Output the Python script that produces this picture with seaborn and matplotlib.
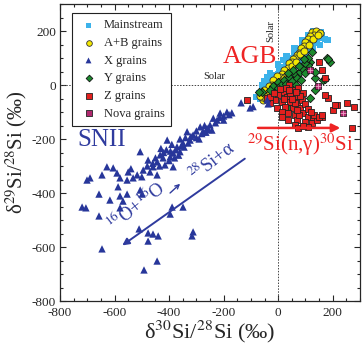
import matplotlib
matplotlib.use("Agg")
import matplotlib.pyplot as plt
import seaborn as sns
import pandas as pd
from matplotlib.ticker import MultipleLocator

# --- data: (d30Si, d29Si) per grain type, permil ---
mainstream_x = [-80, -70, -65, -60, -55, -50, -45, -40, -35, -30, -25, -20, -15, -10, -5, 0, 5, 10, 15, 20,
                25, 30, 35, 40, 45, 50, 55, 60, 65, 70, 75, 80, 85, 90, 95, 100, 105, 110, 115, 120,
                125, 130, 135, 140, 150, 155, 172, 180, 154, -18, 18, -40, 0, 30, 60, 90, 110, -60, -30, 120,
                95, 70, 45, 20, -5, -30, 140, 160, 130, -50, 5, 50, 75, 100, 125]
mainstream_y = [-45, -30, -50, -20, -35, -10, -40, 0, -20, 15, -5, 25, 5, 35, 15, 40, 20, 55, 35, 65,
                45, 80, 55, 90, 70, 100, 80, 110, 90, 120, 100, 130, 110, 140, 120, 150, 130, 160, 140, 170,
                150, 180, 160, 190, 175, 195, 170, 167, 148, 30, 93, 30, 75, 105, 135, 165, 185, 0, 45, 130,
                100, 70, 40, 10, -15, -40, 155, 185, 200, 15, 60, 60, 80, 115, 135]

ab_x = [125, 139, 154, 132, 118, 110, 106, 100, 95, 88, 82, 75, 70, 62, 55, 50, 44, 38, 35, 26,
        20, 15, 7, 0, -5, -11, -18, -22, -29, -35, -40, -48, -52, -55, -60, -65, -45, 10, 30, 50,
        65, 80, 95, 112, 128, 145, -10, -30, 5, 20]
ab_y = [196, 200, 193, 185, 180, 170, 156, 160, 145, 130, 138, 120, 110, 100, 95, 85, 74, 80, 62, 48,
        55, 40, 30, 22, 35, 11, 18, 0, -11, -5, -25, -37, -20, -55, -45, -40, -50, 15, 35, 70,
        85, 115, 125, 150, 170, 185, -10, -30, 5, 25]

x_x = [-37, -40, -92, -136, -103, -170, -188, -213, -200, -224, -238, -230, -250, -243, -261, -275, -286, -270, -300, -312,
       -334, -323, -340, -349, -360, -371, -360, -385, -375, -390, -407, -396, -410, -422, -433, -430, -444, -415, -385, -400,
       -459, -450, -470, -444, -495, -480, -506, -477, -517, -500, -532, -550, -554, -540, -580, -591, -605, -628, -646, -701,
       -690, -587, -506, -499, -617, -719, -705, -657, -657, -580, -569, -554, -580, -396, -389, -349, -510, -477, -459, -440,
       -477, -312, -316, -444, -492, -646, -320, -300, -280, -265, -255, -290, -330, -345, -355, -365, -380, -395, -420, -435,
       -460, -200, -215, -180]
x_y = [-70, -55, -80, -66, -85, -103, -100, -104, -115, -130, -123, -140, -148, -167, -160, -173, -155, -150, -170, -185,
       -173, -204, -195, -215, -200, -229, -247, -252, -240, -220, -204, -266, -240, -270, -259, -235, -285, -296, -303, -280,
       -303, -270, -322, -333, -315, -300, -247, -278, -333, -340, -344, -322, -352, -310, -344, -326, -307, -303, -333, -352,
       -344, -377, -389, -404, -426, -452, -455, -404, -485, -411, -430, -404, -455, -478, -452, -452, -533, -548, -552, -559,
       -578, -544, -559, -652, -685, -607, -190, -195, -180, -175, -165, -200, -215, -230, -225, -260, -270, -245, -250, -300,
       -290, -130, -120, -110]

y_x = [125, 180, 191, 117, 136, 165, 110, 136, -59, -70, 44, 117, 136, 172, 183, 0, 10, 20, 30, 40,
       50, 60, 70, 80, 90, 100, -10, 5, 25, 45, 65, 85, 100, 75, 55, 35, -20, -30, 0, 110, 95]
y_y = [122, 100, 85, 85, 26, 18, 74, 48, -26, -26, -85, -48, -18, 22, 96, 10, 0, 20, 5, 30,
       15, 40, 25, 50, 60, 45, -20, -30, -15, -5, 0, 20, 80, 70, 55, 45, -5, -20, -10, 100, 95]

z_x = [55, 73, 18, 33, 0, 44, 15, -11, 70, 88, 81, 55, 26, -4, -29, 37, 62, 92, 110, 70,
       99, 125, 62, 73, 110, 128, 143, 161, 183, 216, 253, 279, 271, 15, 15, -40, -29, 202, 161, 172,
       150, -114, 77, 132, 150, 161, 70, 62, 172, 209, 40, 30, 60, 90, 100, 50, 20, -15, 5, 45,
       80, 110, 35, 90, 120, 40, 65]
z_y = [-18, -11, -26, -44, -37, -63, -63, -55, -63, -55, -85, -85, -81, -85, -67, -104, -111, -104, -118, -130,
       -137, -141, -148, -159, -155, -118, -130, -118, -48, -74, -67, -81, -159, -100, -118, -48, -44, -93, 55, 26,
       85, -57, -111, -111, -118, -111, -93, -67, -37, -74, 0, -10, -40, -30, -70, -50, -50, -30, -15, -30,
       -40, -90, -130, -150, -100, -20, -25]

nova_x = [117, 147, 238]
nova_y = [55, -2, -104]

groups = {
    "Mainstream": (mainstream_x, mainstream_y),
    "A+B grains": (ab_x, ab_y),
    "X grains": (x_x, x_y),
    "Y grains": (y_x, y_y),
    "Z grains": (z_x, z_y),
    "Nova grains": (nova_x, nova_y),
}

frames = []
for name, (xs, ys) in groups.items():
    frames.append(pd.DataFrame({"d30": xs, "d29": ys, "type": name}))
df = pd.concat(frames, ignore_index=True)

# style per grain type
styles = {
    "Mainstream": dict(marker="s", color="#3cb2ea", edgecolor="none", s=22, lw=0),
    "A+B grains": dict(marker="o", color="#f4e800", edgecolor="#333333", s=26, lw=0.6),
    "X grains": dict(marker="^", color="#27369a", edgecolor="none", s=28, lw=0),
    "Y grains": dict(marker="D", color="#1c8a2e", edgecolor="#111111", s=18, lw=0.6),
    "Z grains": dict(marker="s", color="#e3201e", edgecolor="#222222", s=22, lw=0.6),
    "Nova grains": dict(marker="s", color="#b0286e", edgecolor="#222222", s=24, lw=0.6),
}
draw_order = ["Mainstream", "A+B grains", "Y grains", "Z grains", "Nova grains", "X grains"]

sns.set_style("ticks")
plt.rcParams["font.family"] = ["Liberation Serif", "DejaVu Serif"]
plt.rcParams["mathtext.fontset"] = "stix"
plt.rcParams["axes.unicode_minus"] = False

fig = plt.figure(figsize=(3.64, 3.52), dpi=100)
ax = fig.add_axes([60 / 364, 51 / 352, 300 / 364, 297 / 352])

for name in draw_order:
    st = styles[name]
    sns.scatterplot(data=df[df["type"] == name], x="d30", y="d29", ax=ax,
                    marker=st["marker"], color=st["color"], edgecolor=st["edgecolor"],
                    s=st["s"], linewidth=st["lw"], label=name, zorder=3)

# nova cross
nv = df[df["type"] == "Nova grains"]
ax.scatter(nv["d30"], nv["d29"], marker="+", s=14, color="#f0a0c8", linewidths=0.6, zorder=4)

# solar reference lines
ax.axhline(0, color="#444444", ls=(0, (1.5, 1.5)), lw=0.7, zorder=1)
ax.axvline(0, color="#444444", ls=(0, (1.5, 1.5)), lw=0.7, zorder=1)
ax.text(-235, 14, "Solar", fontsize=7.5, ha="center", va="bottom")
ax.text(-12, 200, "Solar", fontsize=7.5, ha="right", va="center", rotation=90)

# annotations
blue = "#2f3b9e"
red = "#ee2424"
ax.text(-646, -204, "SNII", color=blue, fontsize=18, ha="center", va="center")
ax.text(-105, 104, "AGB", color=red, fontsize=18.5, ha="center", va="center")
ax.annotate("", xy=(-580, -600), xytext=(-114, -267),
            arrowprops=dict(arrowstyle="-|>", color=blue, lw=1.4, mutation_scale=10))
ax.annotate("", xy=(-352, -359), xytext=(-404, -407),
            arrowprops=dict(arrowstyle="->", color=blue, lw=1.0, mutation_scale=7))
ax.text(-522, -448, "$^{16}$O+$^{16}$O", color=blue, fontsize=13.5, rotation=38,
        ha="center", va="center", rotation_mode="anchor")
ax.text(-240, -282, "$^{28}$Si+α", color=blue, fontsize=13.5, rotation=38,
        ha="center", va="center", rotation_mode="anchor")
ax.annotate("", xy=(238, -159), xytext=(-84, -159),
            arrowprops=dict(arrowstyle="-|>", color=red, lw=1.8, mutation_scale=12))
ax.text(81, -222, "$^{29}$Si(n,γ)$^{30}$Si", color=red, fontsize=15, ha="center", va="center")

# axes
ax.set_xlim(-800, 300)
ax.set_ylim(-800, 300)
ax.xaxis.set_major_locator(MultipleLocator(200))
ax.yaxis.set_major_locator(MultipleLocator(200))
ax.xaxis.set_minor_locator(MultipleLocator(50))
ax.yaxis.set_minor_locator(MultipleLocator(50))
ax.tick_params(which="both", direction="in", top=True, right=True, labelsize=9.5, width=0.8)
ax.tick_params(which="major", length=4)
ax.tick_params(axis="x", which="major", pad=4)
ax.tick_params(axis="y", which="major", pad=3)
ax.tick_params(which="minor", length=2)
for sp in ax.spines.values():
    sp.set_linewidth(0.9)
ax.set_xlabel("δ$^{30}$Si/$^{28}$Si (‰)", fontsize=16, labelpad=0)
ax.set_ylabel("δ$^{29}$Si/$^{28}$Si (‰)", fontsize=15, labelpad=2)

# legend in original order
handles, labels = ax.get_legend_handles_labels()
lookup = dict(zip(labels, handles))
order = ["Mainstream", "A+B grains", "X grains", "Y grains", "Z grains", "Nova grains"]
leg = ax.legend([lookup[k] for k in order], order, loc="upper left", fontsize=9,
                frameon=True, fancybox=False, edgecolor="#222222", framealpha=1,
                borderpad=0.5, labelspacing=0.45, handletextpad=0.4, handlelength=1.6,
                markerscale=0.8, bbox_to_anchor=(0.02, 0.99))
leg.get_frame().set_linewidth(0.8)

fig.savefig("out.png", dpi=100)
